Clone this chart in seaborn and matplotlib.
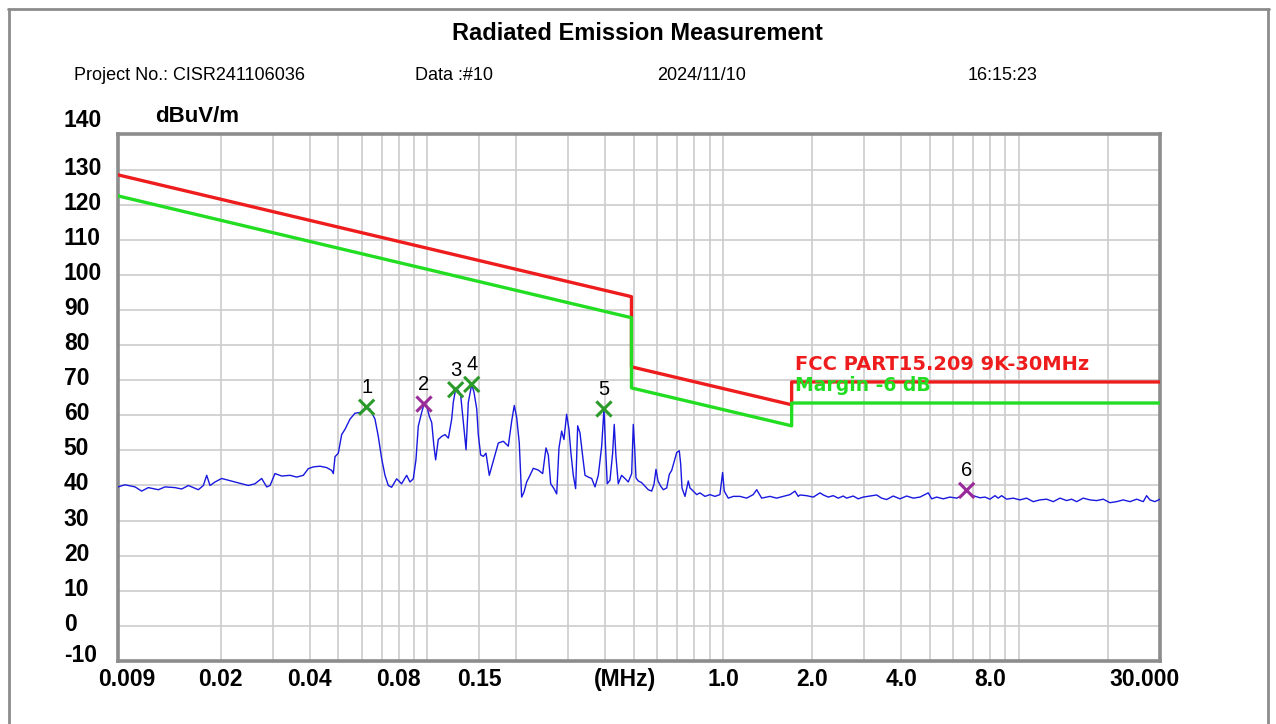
import matplotlib
matplotlib.use("Agg")
import matplotlib.pyplot as plt
import matplotlib.transforms as mtransforms
from matplotlib.lines import Line2D
from matplotlib.ticker import NullFormatter
import seaborn as sns

# ---------------------------------------------------------------
# measured trace (MHz, dBuV/m) read off the plot
# ---------------------------------------------------------------
freq_mhz = [
    0.009, 0.0095, 0.01028, 0.01082, 0.01139, 0.01232, 0.01298, 0.01402, 0.01478, 0.01556,
    0.01682, 0.01749, 0.01795, 0.01842, 0.01915, 0.02017, 0.02124, 0.02237, 0.02357, 0.02482,
    0.02615, 0.02754, 0.02864, 0.02939, 0.03055, 0.03218, 0.03434, 0.03617, 0.03809, 0.0396,
    0.04118, 0.04336, 0.04567, 0.04749, 0.04811, 0.04874, 0.05001, 0.05133, 0.05268, 0.05477,
    0.05694, 0.0592, 0.06155, 0.06235, 0.06399, 0.06654, 0.06827, 0.07007, 0.07192, 0.07381,
    0.07575, 0.07875, 0.08186, 0.08513, 0.08736, 0.08965, 0.09153, 0.09321, 0.0957, 0.09745,
    0.09953, 0.1015, 0.1035, 0.1053, 0.1067, 0.1089, 0.1119, 0.1148, 0.1178, 0.1209,
    0.1224, 0.1247, 0.1273, 0.1297, 0.1324, 0.1352, 0.1376, 0.1413, 0.1438, 0.1469,
    0.1487, 0.1515, 0.1546, 0.1579, 0.162, 0.1651, 0.1693, 0.1738, 0.1807, 0.1878,
    0.1929, 0.1968, 0.2005, 0.2046, 0.2084, 0.2122, 0.2167, 0.2224, 0.2282, 0.2372,
    0.2455, 0.2519, 0.2565, 0.2613, 0.2681, 0.2738, 0.2787, 0.2846, 0.2897, 0.2958,
    0.3012, 0.3059, 0.3115, 0.3173, 0.3224, 0.3282, 0.3352, 0.3413, 0.3501, 0.3595,
    0.3689, 0.3785, 0.3886, 0.3956, 0.4008, 0.4058, 0.4145, 0.4232, 0.4285, 0.4343,
    0.4421, 0.4539, 0.4658, 0.478, 0.4908, 0.497, 0.5022, 0.5075, 0.5167, 0.5306,
    0.5443, 0.5585, 0.5736, 0.5838, 0.5931, 0.6024, 0.6152, 0.6278, 0.6447, 0.6579,
    0.6702, 0.6839, 0.6969, 0.7111, 0.7188, 0.7261, 0.7432, 0.7626, 0.7727, 0.7928,
    0.814, 0.8352, 0.8682, 0.9029, 0.9387, 0.9756, 0.9963, 1.009, 1.041, 1.083,
    1.14, 1.201, 1.264, 1.299, 1.35, 1.44, 1.517, 1.597, 1.683, 1.75,
    1.795, 1.819, 1.916, 2.018, 2.126, 2.182, 2.268, 2.357, 2.451, 2.548,
    2.616, 2.754, 2.864, 2.977, 3.137, 3.305, 3.435, 3.571, 3.76, 3.962,
    4.174, 4.395, 4.63, 4.939, 5.072, 5.273, 5.549, 5.846, 6.16, 6.404,
    6.66, 7.01, 7.385, 7.678, 7.985, 8.302, 8.516, 8.744, 9.092, 9.571,
    10.08, 10.62, 11.18, 11.78, 12.41, 13.07, 13.77, 14.5, 15.08, 15.68,
    16.5, 17.39, 18.32, 19.29, 20.31, 21.41, 22.53, 23.74, 25.02, 26.34,
    27.03, 27.74, 28.84, 30.0,
]
level_dbuv = [
    39.6, 40.2, 39.6, 38.4, 39.4, 38.8, 39.6, 39.4, 39.0, 40.0,
    38.8, 40.0, 42.9, 40.0, 41.0, 42.0, 41.5, 41.0, 40.5, 40.0,
    40.5, 42.0, 39.6, 40.0, 43.4, 42.7, 42.9, 42.4, 42.9, 44.8,
    45.3, 45.5, 45.1, 44.3, 43.4, 48.2, 49.2, 54.5, 56.0, 58.9,
    60.6, 60.8, 62.0, 62.3, 61.8, 58.9, 54.0, 47.7, 42.9, 40.0,
    39.5, 41.9, 40.5, 42.9, 41.0, 41.9, 47.3, 56.9, 60.8, 63.2,
    62.7, 59.8, 57.9, 51.1, 47.3, 53.1, 54.0, 54.5, 53.5, 58.9,
    63.7, 67.5, 67.1, 65.6, 57.9, 50.2, 63.7, 68.8, 66.6, 61.8,
    54.5, 48.7, 48.3, 49.2, 42.9, 45.4, 48.7, 52.1, 52.6, 51.2,
    58.4, 62.8, 59.4, 52.1, 36.7, 38.1, 41.0, 42.9, 44.9, 44.4,
    43.4, 50.7, 48.7, 40.5, 39.1, 37.6, 50.7, 55.5, 53.1, 60.3,
    56.0, 49.2, 42.9, 39.1, 57.0, 55.0, 48.3, 42.9, 42.4, 42.0,
    39.6, 42.9, 51.2, 61.8, 50.2, 40.5, 41.5, 49.2, 57.4, 48.3,
    40.5, 42.9, 42.0, 41.0, 43.4, 57.4, 50.9, 42.2, 41.3, 40.8,
    39.8, 38.8, 38.4, 40.3, 44.6, 41.3, 39.8, 38.8, 39.3, 43.2,
    44.3, 47.0, 49.4, 49.9, 46.1, 39.3, 36.9, 41.3, 39.3, 38.4,
    37.4, 37.9, 36.9, 37.4, 36.9, 37.4, 43.7, 38.4, 36.4, 36.9,
    36.9, 36.4, 37.4, 38.8, 36.4, 36.9, 36.4, 36.9, 37.4, 38.4,
    36.9, 37.3, 37.1, 36.7, 37.9, 37.3, 36.7, 37.1, 36.4, 37.0,
    36.4, 37.0, 36.2, 36.7, 37.0, 37.3, 36.4, 36.0, 37.0, 36.2,
    37.0, 36.4, 36.7, 37.9, 36.2, 36.7, 36.2, 36.7, 36.4, 37.0,
    38.4, 37.1, 36.5, 36.7, 36.1, 37.1, 36.4, 37.1, 36.1, 36.4,
    35.9, 36.4, 35.4, 35.9, 36.1, 35.4, 36.4, 35.7, 36.1, 35.4,
    36.4, 35.9, 35.7, 36.1, 35.1, 35.4, 35.9, 35.4, 36.1, 35.4,
    37.1, 35.9, 35.4, 36.1,
]

# FCC Part 15.209 limit and the -6 dB margin line (corner points)
limit_freq = [0.009, 0.49, 0.49, 1.705, 1.705, 30.0]
limit_level = [128.5, 93.8, 73.8, 63.0, 69.5, 69.5]
margin_level = [122.5, 87.8, 67.8, 57.0, 63.5, 63.5]

# marked peaks
peak_freq = [0.06235, 0.09745, 0.1247, 0.1413, 0.3956, 6.66]
peak_level = [62.3, 63.2, 67.3, 68.8, 61.8, 38.6]
peak_label = ["1", "2", "3", "4", "5", "6"]
peak_group = ["A", "B", "A", "A", "A", "B"]

# axes
xtick_vals = [0.009, 0.02, 0.04, 0.08, 0.15, 0.465, 1.0, 2.0, 4.0, 8.0, 30.0]
xtick_text = ["0.009", "0.02", "0.04", "0.08", "0.15", "(MHz)", "1.0", "2.0", "4.0", "8.0", "30.000"]
xgrid_vals = [0.02, 0.03, 0.04, 0.05, 0.06, 0.07, 0.08, 0.09, 0.1, 0.15,
              0.2, 0.3, 0.4, 0.5, 0.6, 0.7, 0.8, 0.9, 1.0,
              2.0, 3.0, 4.0, 5.0, 6.0, 7.0, 8.0, 9.0, 10.0, 20.0]
ytick_vals = list(range(-10, 150, 10))

sns.set_style("white")
plt.rcParams["font.family"] = ["Liberation Sans", "DejaVu Sans"]
plt.rcParams["text.color"] = "black"
plt.rcParams["xtick.color"] = "black"
plt.rcParams["ytick.color"] = "black"

fig = plt.figure(figsize=(12.76, 7.24), dpi=100)
ax = fig.add_axes([0.09248, 0.08702, 0.81661, 0.72721])
ax.set_xscale("log")

sns.lineplot(x=limit_freq, y=limit_level, estimator=None, sort=False,
             color="#ee1c1c", linewidth=2.4, ax=ax, zorder=3)
sns.lineplot(x=limit_freq, y=margin_level, estimator=None, sort=False,
             color="#22dd22", linewidth=2.4, ax=ax, zorder=3)
sns.lineplot(x=freq_mhz, y=level_dbuv, estimator=None, sort=False,
             color="#1818e0", linewidth=1.0, ax=ax, zorder=4)
sns.scatterplot(x=peak_freq, y=peak_level, hue=peak_group,
                palette={"A": "#2a9a2a", "B": "#9a2a9a"},
                marker="x", s=120, linewidth=2.2, legend=False, ax=ax, zorder=5)
for f, l, t in zip(peak_freq, peak_level, peak_label):
    ax.annotate(t, (f, l), xytext=(0, 14), textcoords="offset points",
                ha="center", va="center", fontsize=14.5, color="black", zorder=6)

ax.text(1.75, 74.6, "FCC PART15.209 9K-30MHz", color="#ee1c1c", fontsize=14,
        fontweight="bold", family="DejaVu Sans", va="center", ha="left", zorder=6)
ax.text(1.75, 68.6, "Margin -6 dB", color="#22dd22", fontsize=13.5,
        fontweight="bold", family="DejaVu Sans", va="center", ha="left", zorder=6)

ax.set_xlim(0.009, 30)
ax.set_ylim(-10, 140)
ax.set_xlabel("")
ax.set_ylabel("")

# grid
ax.xaxis.remove_overlapping_locs = False
ax.set_xticks(xgrid_vals, minor=True)
ax.xaxis.set_minor_formatter(NullFormatter())
ax.set_xticks(xtick_vals)
ax.set_xticklabels(xtick_text, fontsize=16.5, fontweight="bold")
ax.set_yticks(ytick_vals)
ax.set_yticklabels([str(v) for v in ytick_vals], fontsize=16.5, fontweight="bold", ha="left")
ax.grid(False, which="major", axis="x")
ax.grid(True, which="minor", axis="x", color="#cccccc", linewidth=1.2)
ax.grid(True, which="major", axis="y", color="#cccccc", linewidth=1.2)
ax.tick_params(which="both", length=0)
ax.tick_params(axis="y", pad=39)
ax.tick_params(axis="x", pad=5)
for sp in ax.spines.values():
    sp.set_color("#8c8c8c")
    sp.set_linewidth(2.6)
ax.set_axisbelow(True)

# nudge tick labels the way the original places them
def nudge(lbl, dx, dy):
    off = mtransforms.ScaledTranslation(dx / 100, dy / 100, fig.dpi_scale_trans)
    lbl.set_transform(lbl.get_transform() + off)

ylbls = ax.get_yticklabels()
for v, lbl in zip(ytick_vals, ylbls):
    if v == 140:
        nudge(lbl, 0, 16)
    elif v == -10:
        nudge(lbl, 0, 8)
    else:
        nudge(lbl, 0, 4)
xlbls = ax.get_xticklabels()
nudge(xlbls[0], 9, 0)
nudge(xlbls[-1], -15, 0)

# header
fig.text(637 / 1276, 1 - 33 / 724, "Radiated Emission Measurement",
         ha="center", va="center", fontsize=17, fontweight="bold")
fig.text(74 / 1276, 1 - 75 / 724, "Project No.: CISR241106036", va="center", fontsize=13)
fig.text(415 / 1276, 1 - 75 / 724, "Data :#10", va="center", fontsize=13)
fig.text(657 / 1276, 1 - 75 / 724, "2024/11/10", va="center", fontsize=13)
fig.text(968 / 1276, 1 - 75 / 724, "16:15:23", va="center", fontsize=13)
fig.text(155 / 1276, 1 - 117 / 724, "dBuV/m", va="center", fontsize=16, fontweight="bold")

# page border
fig.add_artist(Line2D([8 / 1276, 1269 / 1276], [1 - 9 / 724, 1 - 9 / 724],
                      transform=fig.transFigure, color="#8c8c8c", linewidth=2))
fig.add_artist(Line2D([9 / 1276, 9 / 1276], [0, 1 - 9 / 724],
                      transform=fig.transFigure, color="#8c8c8c", linewidth=2))
fig.add_artist(Line2D([1268 / 1276, 1268 / 1276], [0, 1 - 9 / 724],
                      transform=fig.transFigure, color="#8c8c8c", linewidth=2))

fig.savefig("out.png", dpi=100)
